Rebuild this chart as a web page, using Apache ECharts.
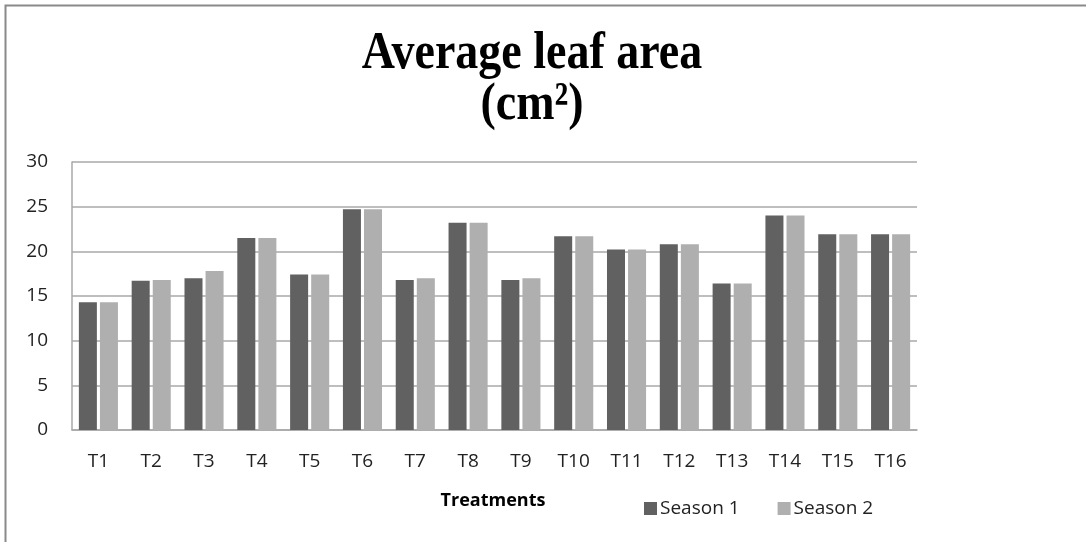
<!DOCTYPE html>
<html><head><meta charset="utf-8">
<script src="https://cdn.jsdelivr.net/npm/echarts@6/dist/echarts.min.js"></script>
<style>html,body{margin:0;padding:0;background:#fff}#c{width:1086px;height:542px}</style>
</head><body><div id="c"></div>
<script>
var categories = ['T1','T2','T3','T4','T5','T6','T7','T8','T9','T10','T11','T12','T13','T14','T15','T16'];
var season1 = [14.3,16.7,17.0,21.5,17.4,24.7,16.8,23.2,16.8,21.7,20.2,20.8,16.4,24.0,21.9,21.9];
var season2 = [14.3,16.8,17.8,21.5,17.4,24.7,17.0,23.2,17.0,21.7,20.2,20.8,16.4,24.0,21.9,21.9];
var yTicks = [0,5,10,15,20,25,30];
var titleLines = ['Average leaf area','(cm²)'];

var chart = echarts.init(document.getElementById('c'));
var labelFont = '"Open Sans", "Noto Sans", sans-serif';
var titleFont = 'bold 46px "Liberation Serif", "Times New Roman", serif';
chart.setOption({
  animation: false,
  backgroundColor: '#fff',
  graphic: [
    {type:'rect', shape:{x:5.5,y:5.5,width:1100,height:560}, style:{fill:'none', stroke:'#8a8a8a', lineWidth:2}},
    {type:'text', x:532, y:54, scaleY:1.15, style:{text:titleLines[0], font:titleFont, fill:'#000', align:'center', verticalAlign:'middle'}},
    {type:'text', x:532, y:105, scaleY:1.15, style:{text:titleLines[1], font:titleFont, fill:'#000', align:'center', verticalAlign:'middle'}},
    {type:'text', x:493, y:501, style:{text:'Treatments', font:'bold 18px ' + labelFont, fill:'#000', align:'center', verticalAlign:'middle'}}
  ],
  legend: {
    data: ['Season 1','Season 2'],
    left: 639, top: 494,
    itemWidth: 13, itemHeight: 13, itemGap: 38,
    icon: 'rect',
    textStyle: {fontFamily: labelFont, fontSize: 19, color: '#222', padding:[0,0,0,-2]}
  },
  grid: {left:72, right:169, top:162, bottom:112},
  xAxis: {
    type:'category', data: categories,
    axisLine:{lineStyle:{color:'#a8a8a8', width:1.5}},
    axisTick:{show:false},
    axisLabel:{color:'#222', fontFamily:labelFont, fontSize:19, margin:22}
  },
  yAxis: {
    type:'value', min:yTicks[0], max:yTicks[yTicks.length-1], interval:5,
    axisLine:{show:true, lineStyle:{color:'#a8a8a8', width:1.5}},
    axisTick:{show:false},
    splitLine:{lineStyle:{color:'#a8a8a8', width:1.5}},
    axisLabel:{color:'#222', fontFamily:labelFont, fontSize:19, margin:24}
  },
  series: [
    {name:'Season 1', type:'bar', data: season1, itemStyle:{color:'#616161'}, barGap:'17%', barCategoryGap:'26%'},
    {name:'Season 2', type:'bar', data: season2, itemStyle:{color:'#afafaf'}}
  ]
});
</script></body></html>
